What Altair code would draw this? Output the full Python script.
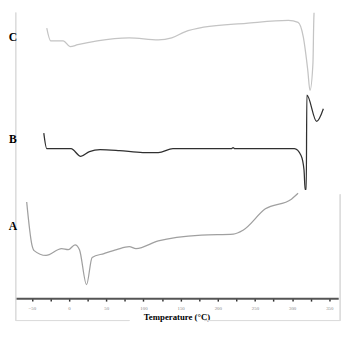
import altair as alt
import pandas as pd

# Temperatures (°C) and signal (arbitrary units, offset curves)
a_temp = [-57, -50, -47, -31, -10, -1, 8, 14, 23.5, 31, 47, 64, 81, 90, 120, 178, 221, 234, 264, 299, 308]
a_sig = [99, 55, 49, 44, 51, 50, 55, 50, 14, 42, 46, 50, 53, 51, 59, 65, 66, 70, 92, 102, 108]

b_temp = [-34, -30, 2.6, 15.7, 27.4, 41.8, 67.9, 99.2, 120, 139.7, 155, 218, 220.6, 223, 303, 312, 316, 317.5, 319, 319.8, 333, 342]
b_sig = [170, 154, 154, 146, 151, 153, 152, 150, 150, 154, 154, 154, 155, 154, 154, 147, 132, 112, 112, 209, 182, 195]

c_temp = [-30, -24.8, -7.8, 1.3, 11.7, 37.9, 80.9, 120, 138, 155, 181, 238, 295, 308, 315, 321, 324, 328, 329, 330.5]
c_sig = [278, 265, 265, 259, 261, 265, 268, 266, 268, 274, 279, 283, 286, 284, 269, 235, 214, 242, 282, 310]

labels = ["A", "B", "C"]
label_sig = [74, 164, 269]
label_colors = ["#a0a0a0", "#303030", "#c4c4c4"]

tick_values = list(range(-50, 351, 25))

rows = []
for name, ts, ss in [("A", a_temp, a_sig), ("B", b_temp, b_sig), ("C", c_temp, c_sig)]:
    for i, (t, s) in enumerate(zip(ts, ss)):
        rows.append({"curve": name, "T": t, "S": s, "i": i})
df = pd.DataFrame(rows)
lab_df = pd.DataFrame({"curve": labels, "S": label_sig})

xs = alt.Scale(domain=[-73, 362], nice=False, zero=False)
ys = alt.Scale(domain=[0, 294], nice=False, zero=False)

lines = alt.Chart(df).mark_line(clip=True, strokeWidth=1.3, interpolate="monotone").encode(
    x=alt.X("T:Q", scale=xs, title="Temperature (°C)",
            axis=alt.Axis(values=tick_values, format="d",
                          labelExpr="datum.value % 50 == 0 ? datum.label : ''",
                          labelFontSize=5, labelColor="#888888", labelFont="Liberation Serif",
                          labelPadding=5,
                          domainColor="#555555", domainWidth=2,
                          tickColor="#333333", tickSize=3, tickWidth=1.5,
                          grid=False,
                          titleFont="Liberation Serif", titleFontSize=9, titleFontWeight="bold",
                          titleColor="#000000", titlePadding=2)),
    y=alt.Y("S:Q", scale=ys, axis=None),
    order="i:Q",
    color=alt.Color("curve:N", scale=alt.Scale(domain=labels, range=label_colors), legend=None),
    detail="curve:N",
)

text = alt.Chart(lab_df).mark_text(font="Liberation Serif", fontWeight="bold", fontSize=12,
                                   color="#000000", align="center", baseline="middle").encode(
    x=alt.value(-2),
    y=alt.Y("S:Q", scale=ys),
    text="curve:N",
)

frame_color = "#dcdcdc"
left_rule = alt.Chart(lab_df).mark_rule(color=frame_color, strokeWidth=1).encode(
    x=alt.value(1), y=alt.value(0), y2=alt.value(317)
)
bottom_rule1 = alt.Chart(lab_df).mark_rule(color=frame_color, strokeWidth=1).encode(
    x=alt.value(1), x2=alt.value(118), y=alt.value(317)
)
bottom_rule2 = alt.Chart(lab_df).mark_rule(color=frame_color, strokeWidth=1).encode(
    x=alt.value(195), x2=alt.value(335), y=alt.value(317)
)
right_rule = alt.Chart(lab_df).mark_rule(color=frame_color, strokeWidth=1).encode(
    x=alt.value(335), y=alt.value(187), y2=alt.value(317)
)

chart = alt.layer(left_rule, bottom_rule1, bottom_rule2, right_rule, lines, text).properties(
    width=333, height=294,
    autosize=alt.AutoSizeParams(type="none"),
    padding={"left": 7, "top": 0, "right": 8, "bottom": 30},
).configure_view(stroke=None)

chart.save("out.html", embed_options={"renderer": "svg", "actions": False})
